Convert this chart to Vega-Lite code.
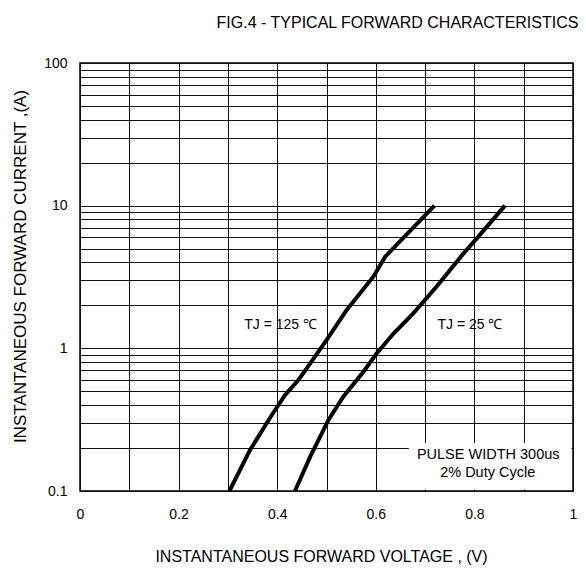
{
  "$schema": "https://vega.github.io/schema/vega-lite/v6.json",
  "width": 493,
  "height": 428,
  "autosize": {"type": "none"},
  "padding": {"left": 80, "top": 63, "right": 13, "bottom": 79},
  "background": "white",
  "config": {
    "font": "Liberation Sans",
    "view": {"stroke": "#000", "strokeWidth": 1.5},
    "axis": {"domain": false, "ticks": false, "grid": true, "gridColor": "#111", "gridWidth": 1, "gridOpacity": 1, "labelColor": "#000", "titleColor": "#000", "labelFont": "Liberation Sans", "titleFont": "Liberation Sans", "titleFontWeight": "normal", "labelFontSize": 14, "titleFontSize": 16}
  },
  "title": {"text": "FIG.4 - TYPICAL FORWARD CHARACTERISTICS", "font": "Liberation Sans", "fontSize": 16, "fontWeight": "normal", "color": "#000", "anchor": "middle", "frame": "group", "dx": 71, "offset": 12, "baseline": "alphabetic"},
  "datasets": {
    "curves": [
      {"series": "125", "v": 0.303, "i": 0.1},
      {"series": "125", "v": 0.345, "i": 0.194},
      {"series": "125", "v": 0.389, "i": 0.341},
      {"series": "125", "v": 0.416, "i": 0.471},
      {"series": "125", "v": 0.443, "i": 0.60},
      {"series": "125", "v": 0.467, "i": 0.785},
      {"series": "125", "v": 0.500, "i": 1.14},
      {"series": "125", "v": 0.541, "i": 1.86},
      {"series": "125", "v": 0.595, "i": 3.18},
      {"series": "125", "v": 0.619, "i": 4.39},
      {"series": "125", "v": 0.719, "i": 10},
      {"series": "25", "v": 0.436, "i": 0.1},
      {"series": "25", "v": 0.467, "i": 0.174},
      {"series": "25", "v": 0.504, "i": 0.315},
      {"series": "25", "v": 0.534, "i": 0.458},
      {"series": "25", "v": 0.575, "i": 0.686},
      {"series": "25", "v": 0.602, "i": 0.923},
      {"series": "25", "v": 0.636, "i": 1.27},
      {"series": "25", "v": 0.676, "i": 1.76},
      {"series": "25", "v": 0.723, "i": 2.70},
      {"series": "25", "v": 0.778, "i": 4.63},
      {"series": "25", "v": 0.805, "i": 5.9},
      {"series": "25", "v": 0.862, "i": 10}
    ],
    "labels": [
      {"label": "TJ = 125 ℃", "v": 0.407, "i": 1.455},
      {"label": "TJ = 25 ℃", "v": 0.791, "i": 1.455}
    ],
    "note": [
      {"label": "PULSE WIDTH 300us", "v": 0.828, "i": 0.1788},
      {"label": "2% Duty Cycle", "v": 0.827, "i": 0.1337}
    ],
    "box": [
      {"v": 0.667, "v2": 0.997, "i": 0.1025, "i2": 0.217}
    ]
  },
  "layer": [
    {
      "data": {"name": "box"},
      "mark": {"type": "rect", "fill": "white", "stroke": null},
      "encoding": {
        "x": {"field": "v", "type": "quantitative", "scale": {"domain": [0, 1], "nice": false, "zero": false},
          "axis": {"values": [0, 0.1, 0.2, 0.3, 0.4, 0.5, 0.6, 0.7, 0.8, 0.9, 1], "format": "~g", "labelExpr": "indexof([0, 0.2, 0.4, 0.6, 0.8, 1], datum.value) >= 0 ? datum.label : ''", "labelOverlap": false, "labelFlush": false, "labelPadding": 16, "labelBaseline": "top",
            "title": "INSTANTANEOUS FORWARD VOLTAGE , (V)", "titleX": 241, "titleY": 70, "titleAlign": "center", "titleBaseline": "alphabetic", "titleAnchor": null}},
        "x2": {"field": "v2"},
        "y": {"field": "i", "type": "quantitative", "scale": {"type": "log", "domain": [0.1, 100], "nice": false},
          "axis": {"values": [0.1, 0.2, 0.3, 0.4, 0.5, 0.6, 0.7, 0.8, 0.9, 1, 2, 3, 4, 5, 6, 7, 8, 9, 10, 20, 30, 40, 50, 60, 70, 80, 90, 100], "format": "~g", "labelExpr": "indexof([0.1, 1, 10, 100], datum.value) >= 0 ? datum.label : ''", "labelOverlap": false, "labelFlush": false, "labelPadding": 13, "labelBaseline": "middle",
            "title": "INSTANTANEOUS  FORWARD CURRENT ,(A)", "titleFontSize": 17, "titleAngle": 270, "titleX": -55, "titleY": 203, "titleAlign": "center", "titleBaseline": "alphabetic"}},
        "y2": {"field": "i2"}
      }
    },
    {
      "data": {"name": "curves"},
      "mark": {"type": "line", "color": "#000", "strokeWidth": 4, "interpolate": "linear"},
      "encoding": {
        "x": {"field": "v", "type": "quantitative"},
        "y": {"field": "i", "type": "quantitative"},
        "detail": {"field": "series"},
        "order": {"field": "v", "type": "quantitative"}
      }
    },
    {
      "data": {"name": "labels"},
      "mark": {"type": "text", "fontSize": 14, "font": "Liberation Sans", "color": "#000", "align": "center", "baseline": "middle"},
      "encoding": {
        "x": {"field": "v", "type": "quantitative"},
        "y": {"field": "i", "type": "quantitative"},
        "text": {"field": "label"}
      }
    },
    {
      "data": {"name": "note"},
      "mark": {"type": "text", "fontSize": 14.5, "font": "Liberation Sans", "color": "#000", "align": "center", "baseline": "middle"},
      "encoding": {
        "x": {"field": "v", "type": "quantitative"},
        "y": {"field": "i", "type": "quantitative"},
        "text": {"field": "label"}
      }
    }
  ]
}
